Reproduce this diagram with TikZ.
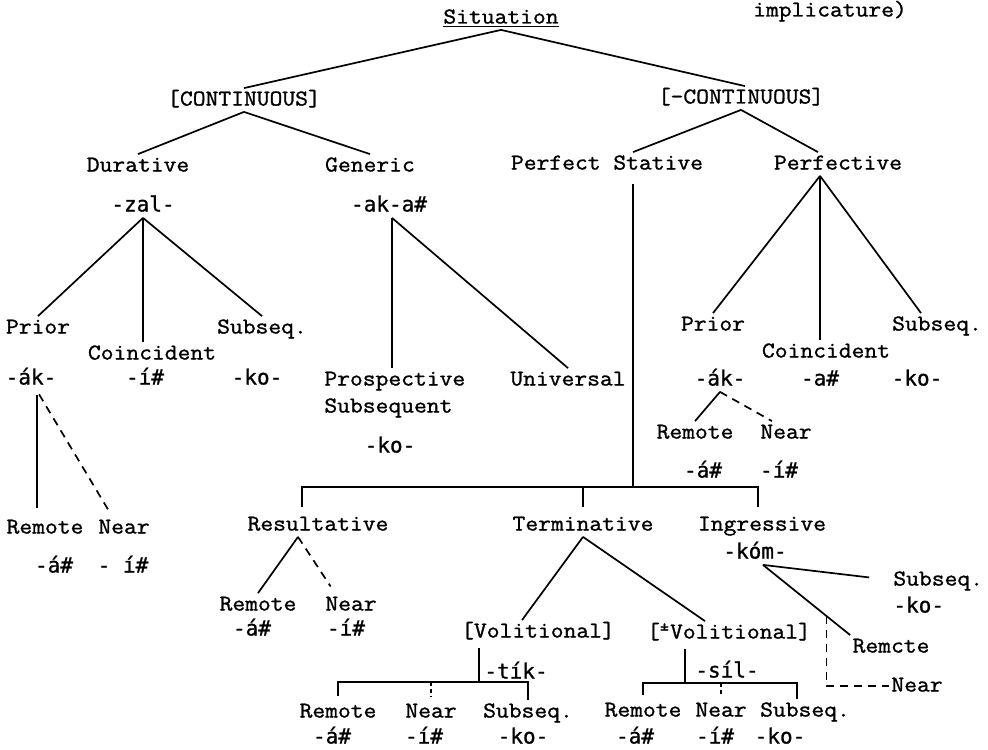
\documentclass[tikz,border=0pt]{standalone}
\usepackage{fontspec}
\setmonofont{Latin Modern Mono}[FakeBold=1.2,FakeStretch=1.1]
\newfontfamily\morphfont{DejaVu Sans Mono}[FakeBold=1.0]
\usetikzlibrary{calc}
\begin{document}
\begin{tikzpicture}[x=0.5pt,y=-0.5pt,
  lab/.style={inner sep=1pt,text height=7.5pt,text depth=2pt,font=\ttfamily\fontsize{11.3}{13}\selectfont},
  mor/.style={inner sep=1pt,text height=7.5pt,text depth=2pt,font=\morphfont\fontsize{10.5}{13}\selectfont},
  ln/.style={line width=0.85pt},
  dl/.style={line width=0.85pt,dash pattern=on 4pt off 3pt}]
\useasboundingbox (0,0) rectangle (988,749);

% ---- nodes ----
\node[lab] (impl) at (830,11) {implicature)};
\node[lab] (sit) at (501,18) {\underline{Situation}};
\node[lab] (cont) at (244,100) {[CONTINUOUS]};
\node[lab] (ncont) at (741,98) {[-CONTINUOUS]};
\node[lab] (dur) at (138,166) {Durative};
\node[lab] (gen) at (370,166) {Generic};
\node[lab] (pstat) at (607,164) {Perfect Stative};
\node[lab] (perf) at (838,164) {Perfective};
\node[mor] (zal) at (143,206) {-zal-};
\node[mor] (akA) at (389,206) {-ak-a\#};

\node[lab] (prior1) at (38,328) {Prior};
\node[lab] (sub1) at (262,328) {Subseq.};
\node[lab] (coin1) at (152,354) {Coincident};
\node[mor] (ak1) at (31,379) {-ák-};
\node[mor] (i1) at (145,379) {-í\#};
\node[mor] (ko1) at (257,379) {-ko-};
\node[lab] (rem1) at (45,528) {Remote};
\node[lab] (near1) at (124,528) {Near};
\node[mor] (a1) at (54,567) {-á\#};
\node[mor] (i1b) at (123,567) {- í\#};

\node[lab,anchor=west] (prosp) at (322,380) {Prospective};
\node[lab,anchor=west] (subsq) at (322,407) {Subsequent};
\node[mor] (ko2) at (390,447) {-ko-};
\node[lab] (univ) at (568,380) {Universal};

\node[lab] (prior2) at (713,325) {Prior};
\node[lab] (sub2) at (937,325) {Subseq.};
\node[lab] (coin2) at (826,352) {Coincident};
\node[mor] (ak2) at (720,380) {-ák-};
\node[mor] (a2) at (820,380) {-a\#};
\node[mor] (ko3) at (917,380) {-ko-};
\node[lab] (rem2) at (695,433) {Remote};
\node[lab] (near2) at (786,433) {Near};
\node[mor] (a3) at (703,472) {-á\#};
\node[mor] (i3) at (779,472) {-í\#};

\node[lab] (res) at (318,525) {Resultative};
\node[lab] (term) at (583,525) {Terminative};
\node[lab] (ing) at (762,525) {Ingressive};
\node[mor] (kom) at (755,553) {-kóm-};
\node[lab,anchor=west] (subR) at (891,580) {Subseq.};
\node[mor,anchor=west] (koR) at (891,607) {-ko-};
\node[lab] (remc) at (891,647) {Remcte};
\node[lab] (nearR) at (917,686) {Near};

\node[lab] (rem3) at (258,605) {Remote};
\node[lab] (near3) at (351,605) {Near};
\node[mor] (a4) at (252,630) {-á\#};
\node[mor] (i4) at (346,630) {-í\#};

\node[lab] (vol) at (538,632) {[Volitional]};
\node[lab] (pvol) at (729,633) {[\textsuperscript{±}Volitional]};
\node[mor] (tik) at (516,673) {-tík-};
\node[mor] (sil) at (727,672) {-síl-};

\node[lab] (remV) at (338,712) {Remote};
\node[lab] (nearV) at (431,712) {Near};
\node[lab] (subV) at (528,712) {Subseq.};
\node[mor] (a5) at (332,738) {-á\#};
\node[mor] (i5) at (424,738) {-í\#};
\node[mor] (ko5) at (523,738) {-ko-};

\node[lab] (remP) at (643,711) {Remote};
\node[lab] (nearP) at (721,711) {Near};
\node[lab] (subP) at (805,711) {Subseq.};
\node[mor] (a6) at (635,738) {-á\#};
\node[mor] (i6) at (715,738) {-í\#};
\node[mor] (ko6) at (780,738) {-ko-};

% ---- junctions ----
\coordinate (bar) at (633,487);
\coordinate (vbar) at (479,682);
\coordinate (pbar) at (685,683);

% ---- connectors ----
\draw[ln] (sit.south) -- (cont.north);
\draw[ln] (sit.south) -- ([xshift=2pt]ncont.north);
\draw[ln] (cont.south) -- (dur.north);
\draw[ln] (cont.south) -- (gen.north);
\draw[ln] (ncont.south) -- ([xshift=13pt]pstat.north);
\draw[ln] (ncont.south) -- ([xshift=-10pt]perf.north);

\draw[ln] (zal.south) -- (prior1.north);
\draw[ln] (zal.south) -- (zal.south |- coin1.north);
\draw[ln] (zal.south) -- (sub1.north);
\draw[ln,shorten <=2pt,shorten >=4pt] ([xshift=3pt]ak1.south) -- ([xshift=3pt]ak1.south |- rem1.north);
\draw[dl,shorten <=2pt,shorten >=4pt] ([xshift=3pt]ak1.south) -- ([xshift=-6pt]near1.north);

\draw[ln] ([xshift=1.5pt]akA.south) -- ([xshift=1.5pt]akA.south |- prosp.north);
\draw[ln] ([xshift=1.5pt]akA.south) -- (univ.north);

\draw[ln] ([xshift=-9pt]perf.south) -- (prior2.north);
\draw[ln] ([xshift=-9pt]perf.south) -- ([xshift=-9pt]perf.south |- coin2.north);
\draw[ln] ([xshift=-9pt]perf.south) -- ([xshift=-8pt]sub2.north);
\draw[ln] (ak2.south) -- (rem2.north);
\draw[dl] (ak2.south) -- ([xshift=-7pt]near2.north);

\draw[ln,shorten <=4pt] ([xshift=13pt]pstat.south) -- (bar);
\draw[ln,shorten <=3pt,shorten >=3pt] ([xshift=-8pt]res.north) |- (bar) -| ([xshift=-2pt]ing.north);
\draw[ln,shorten >=3pt] (bar -| term.north) -- (term.north);

\draw[ln] ([xshift=-10pt]res.south) -- (rem3.north);
\draw[dl,shorten >=4pt] ([xshift=-10pt]res.south) -- ([xshift=-8pt]near3.north);

\draw[ln] (term.south) -- ([xshift=-8pt]vol.north);
\draw[ln] (term.south) -- ([xshift=-12pt]pvol.north);

\draw[ln,shorten <=2pt] (vbar |- vol.south) -- (vbar);
\draw[ln,shorten <=2pt] (remV.north) |- (vbar) -| (subV.north);
\draw[dl,dash pattern=on 2pt off 1.5pt] (nearV.north |- vbar) -- ([yshift=2pt]nearV.north);

\draw[ln,shorten <=2pt] (pbar |- pvol.south) -- (pbar);
\draw[ln,shorten <=2pt] (remP.north) |- (pbar) -| ([xshift=-4pt]subP.north);
\draw[dl,dash pattern=on 2pt off 1.5pt] (nearP.north |- pbar) -- ([yshift=2pt]nearP.north);

\draw[ln,shorten >=11pt] ([xshift=4pt]kom.south) -- (subR.west);
\draw[ln] ([xshift=4pt]kom.south) -- (remc.north west);
\coordinate (kbranch) at ($([xshift=4pt]kom.south)!0.727!(remc.north west)$);
\draw[dl] (kbranch) |- (nearR.west);
\end{tikzpicture}
\end{document}
